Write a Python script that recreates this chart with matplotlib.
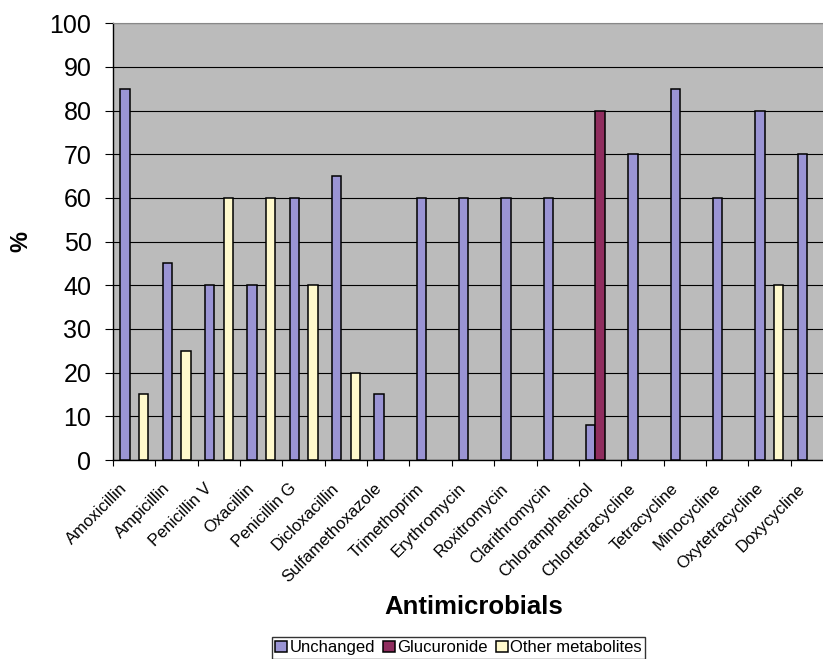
import numpy as np
import matplotlib
matplotlib.use("Agg")
import matplotlib.pyplot as plt
import matplotlib.transforms as mtransforms

drugs = ["Amoxicillin", "Ampicillin", "Penicillin V", "Oxacillin", "Penicillin G",
         "Dicloxacillin", "Sulfamethoxazole", "Trimethoprim", "Erythromycin",
         "Roxitromycin", "Clarithromycin", "Chloramphenicol", "Chlortetracycline",
         "Tetracycline", "Minocycline", "Oxytetracycline", "Doxycycline"]
unchanged = [85, 45, 40, 40, 60, 65, 15, 60, 60, 60, 60, 8, 70, 85, 60, 80, 70]
glucuronide = [0, 0, 0, 0, 0, 0, 0, 0, 0, 0, 0, 80, 0, 0, 0, 0, 0]
other = [15, 25, 60, 60, 40, 20, 0, 0, 0, 0, 0, 0, 0, 0, 0, 40, 0]
series_names = ["Unchanged", "Glucuronide", "Other metabolites"]
colors = ["#9A94D4", "#8F2D5E", "#FFF9CC"]

plt.rcParams['font.family'] = ['Liberation Sans', 'DejaVu Sans']

fig = plt.figure(figsize=(8.23, 6.59), dpi=100)
ax = fig.add_axes([113 / 823, 199 / 659, 720 / 823, 436.7 / 659])
ax.set_facecolor("#BBBBBB")

x = np.arange(len(drugs))
w = 0.22
for k, (vals, name, c) in enumerate(zip([unchanged, glucuronide, other], series_names, colors)):
    vals = np.array(vals, dtype=float)
    mask = vals > 0
    ax.bar(x[mask] + (k - 1) * w, vals[mask], width=w, color=c, edgecolor="black",
           linewidth=1.1, label=name, zorder=3)

ax.set_xlim(-0.5, len(drugs) - 0.5)
ax.set_ylim(0, 100)
ax.set_yticks(range(0, 101, 10))
ax.yaxis.grid(True, color="black", linewidth=0.8, zorder=1)
ax.tick_params(axis="y", labelsize=18, length=6, width=0.8, direction="out", pad=9.5)

ax.set_xticks(x)
ax.set_xticklabels(drugs, rotation=45, ha="right", rotation_mode="anchor", fontsize=12)
ax.tick_params(axis="x", which="major", length=0, pad=15)
ax.set_xticks(np.arange(-0.5, len(drugs), 1.0), minor=True)
ax.tick_params(axis="x", which="minor", length=4, width=0.8, direction="out")
shift = mtransforms.ScaledTranslation(-14.5 / 100, 0, fig.dpi_scale_trans)
for lab in ax.get_xticklabels():
    lab.set_transform(lab.get_transform() + shift)

for s in ["left", "bottom"]:
    ax.spines[s].set_color("black")
    ax.spines[s].set_linewidth(1.0)
ax.spines["top"].set_color("#888888")
ax.spines["right"].set_visible(False)

fig.text(474 / 823, 1 - 607 / 659, "Antimicrobials", ha="center", va="center",
         fontsize=18.5, fontweight="bold")
fig.text(21 / 823, 1 - 241 / 659, "%", ha="center", va="center", rotation=90,
         fontsize=17, fontweight="bold")

leg = fig.legend(loc="upper center", bbox_to_anchor=(458.5 / 823, 1 - 637 / 659), ncol=3,
                 fontsize=12, frameon=True, fancybox=False, borderpad=0.2,
                 handlelength=0.7, handleheight=0.7, handletextpad=0.15, columnspacing=0.5,
                 borderaxespad=0)
leg.get_frame().set_edgecolor("black")
leg.get_frame().set_linewidth(1.0)

fig.savefig("out.png", dpi=100)
